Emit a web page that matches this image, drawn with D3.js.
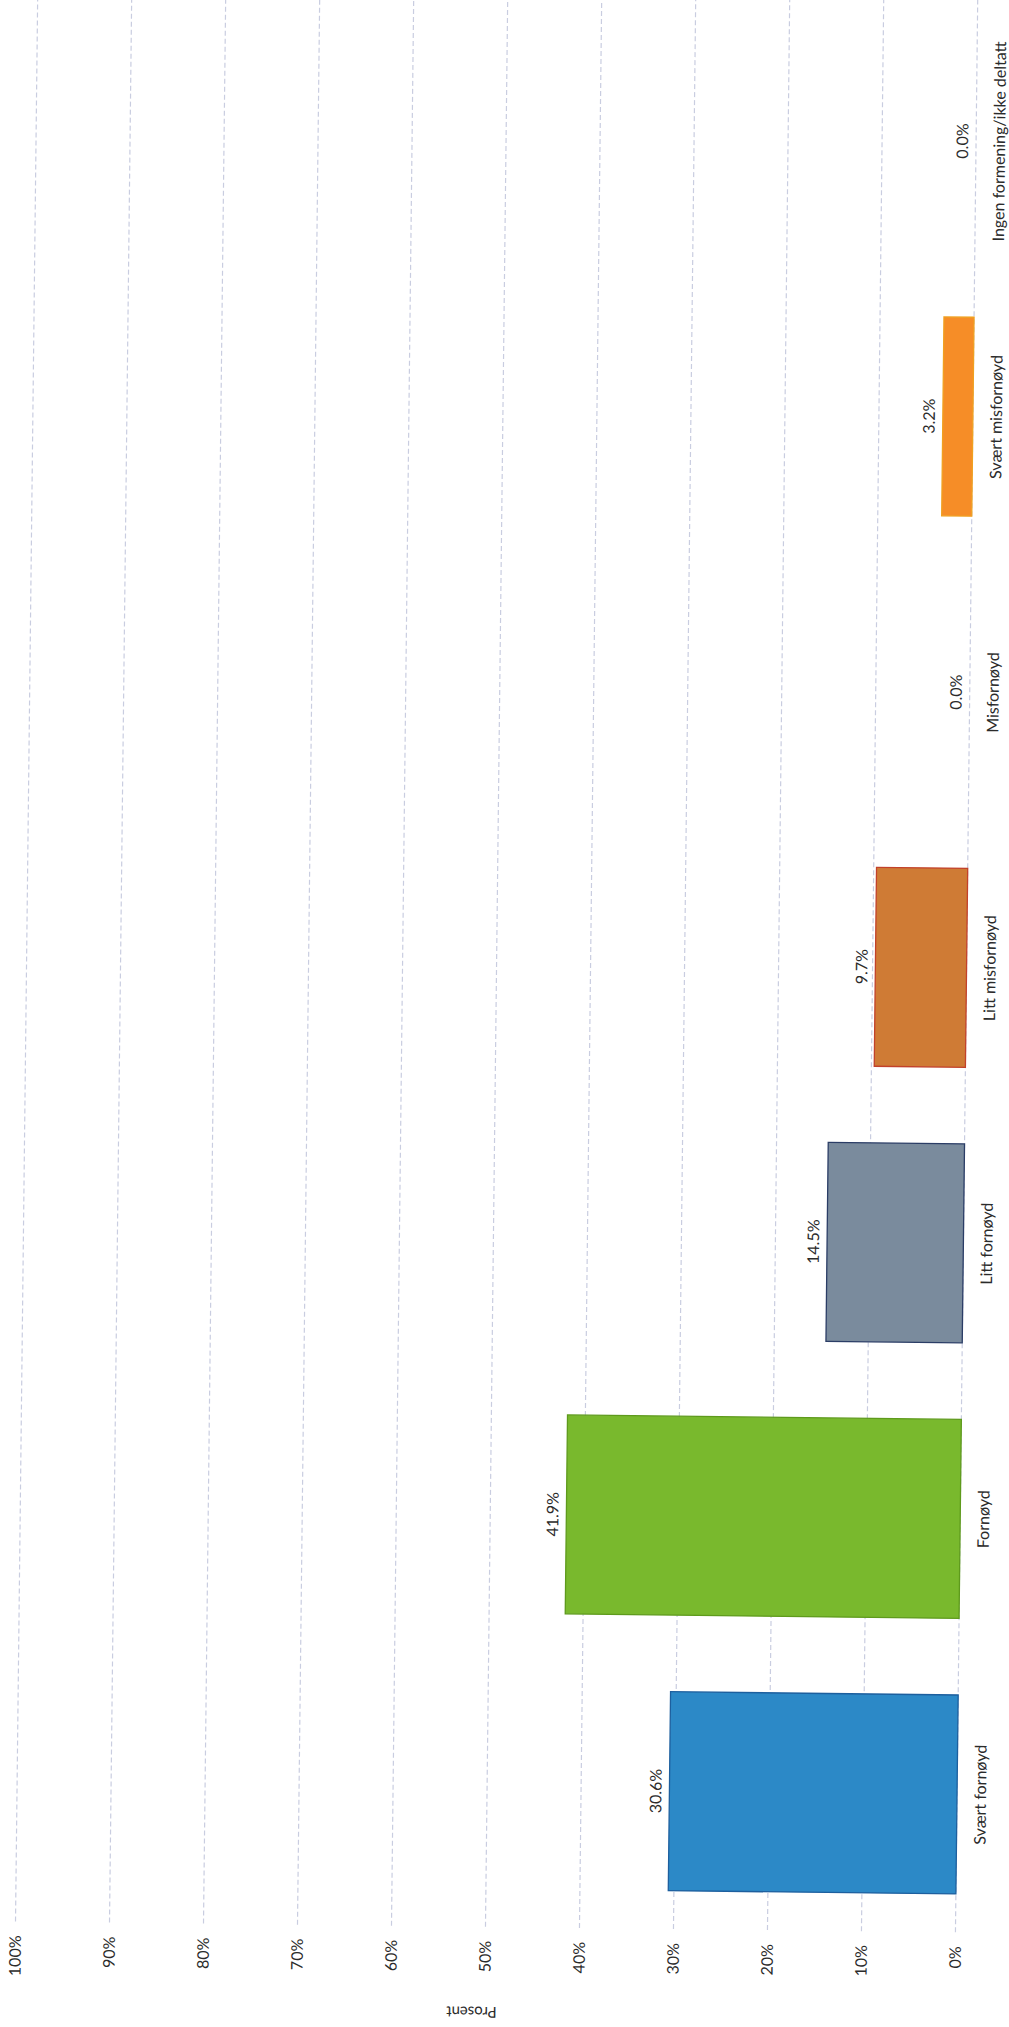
<!DOCTYPE html>
<html>
<head>
<meta charset="utf-8">
<script src="https://cdn.jsdelivr.net/npm/d3@7"></script>
<style>
  html, body { margin: 0; padding: 0; background: #fff; }
  svg { display: block; }
  text { font-family: Lato, "Open Sans", "DejaVu Sans", sans-serif; fill: #2b2b2b; }
</style>
</head>
<body>
<svg id="chart" width="1009" height="2027"></svg>
<script>
// ---- data ----
const categories = ["Svært fornøyd", "Fornøyd", "Litt fornøyd", "Litt misfornøyd", "Misfornøyd", "Svært misfornøyd", "Ingen formening/ikke deltatt"];
const values = [30.6, 41.9, 14.5, 9.7, 0.0, 3.2, 0.0];
const valueLabels = ["30.6%", "41.9%", "14.5%", "9.7%", "0.0%", "3.2%", "0.0%"];
const barColors = ["#2c89c7", "#79b92d", "#7a8b9d", "#cf7b35", "#e88a34", "#f68d27", "#9e9e9e"];
const barStrokes = ["#1d5f9e", "#5e9a1c", "#2b3d66", "#c2412a", "#d9701e", "#f0a020", "#888888"];
const tickValues = [0, 10, 20, 30, 40, 50, 60, 70, 80, 90, 100];
const tickLabels = ["0%", "10%", "20%", "30%", "40%", "50%", "60%", "70%", "80%", "90%", "100%"];
const axisTitle = "Prosent";

// ---- layout (chart drawn in landscape, then turned like the scanned page) ----
const svg = d3.select("#chart");
svg.append("rect").attr("width", 1009).attr("height", 2027).attr("fill", "#ffffff");

const root = svg.append("g")
  .attr("transform", "rotate(0.66,504.5,1013.5) translate(0,2027) rotate(-90)");

const x = d3.scaleBand()
  .domain(categories)
  .range([100, 2029])
  .paddingInner(0.278)
  .paddingOuter(0.139);

const y = d3.scaleLinear().domain([0, 100]).range([966, 26]);

// gridlines
root.append("g").selectAll("line")
  .data(tickValues)
  .join("line")
  .attr("x1", 100)
  .attr("x2", 2040)
  .attr("y1", d => y(d))
  .attr("y2", d => y(d))
  .attr("stroke", "#c9cde0")
  .attr("stroke-width", 1.2)
  .attr("stroke-dasharray", "5,3");

// y tick labels via axis
const yAxis = d3.axisLeft(y)
  .tickValues(tickValues)
  .tickFormat((d, i) => tickLabels[i])
  .tickSize(0)
  .tickPadding(0);
const yg = root.append("g").attr("transform", "translate(86,0)").call(yAxis);
yg.select(".domain").remove();
yg.selectAll("text")
  .attr("font-size", 16)
  .attr("font-family", "Lato, 'Open Sans', sans-serif")
  .attr("fill", "#2b2b2b");

// axis title
root.append("text")
  .attr("transform", "translate(14,483) rotate(-90)")
  .attr("text-anchor", "middle")
  .attr("dominant-baseline", "central")
  .attr("font-size", 15)
  .text(axisTitle);

// bars
const data = categories.map((c, i) => ({ c, v: values[i], label: valueLabels[i], fill: barColors[i], stroke: barStrokes[i] }));

root.append("g").selectAll("rect")
  .data(data.filter(d => d.v > 0))
  .join("rect")
  .attr("x", d => x(d.c))
  .attr("width", x.bandwidth())
  .attr("y", d => y(d.v))
  .attr("height", d => y(0) - y(d.v))
  .attr("fill", d => d.fill)
  .attr("stroke", d => d.stroke)
  .attr("stroke-width", 1.3);

// value labels
root.append("g").selectAll("text")
  .data(data)
  .join("text")
  .attr("x", d => x(d.c) + x.bandwidth() / 2)
  .attr("y", d => y(d.v) - 8)
  .attr("text-anchor", "middle")
  .attr("font-size", 16)
  .text(d => d.label);

// category labels via axis
const xAxis = d3.axisBottom(x).tickSize(0).tickPadding(0);
const xg = root.append("g").attr("transform", "translate(0,983)").call(xAxis);
xg.select(".domain").remove();
xg.selectAll("text")
  .attr("font-size", 16)
  .attr("font-family", "Lato, 'Open Sans', sans-serif")
  .attr("fill", "#2b2b2b")
  .attr("dy", "0.75em");
</script>
</body>
</html>
